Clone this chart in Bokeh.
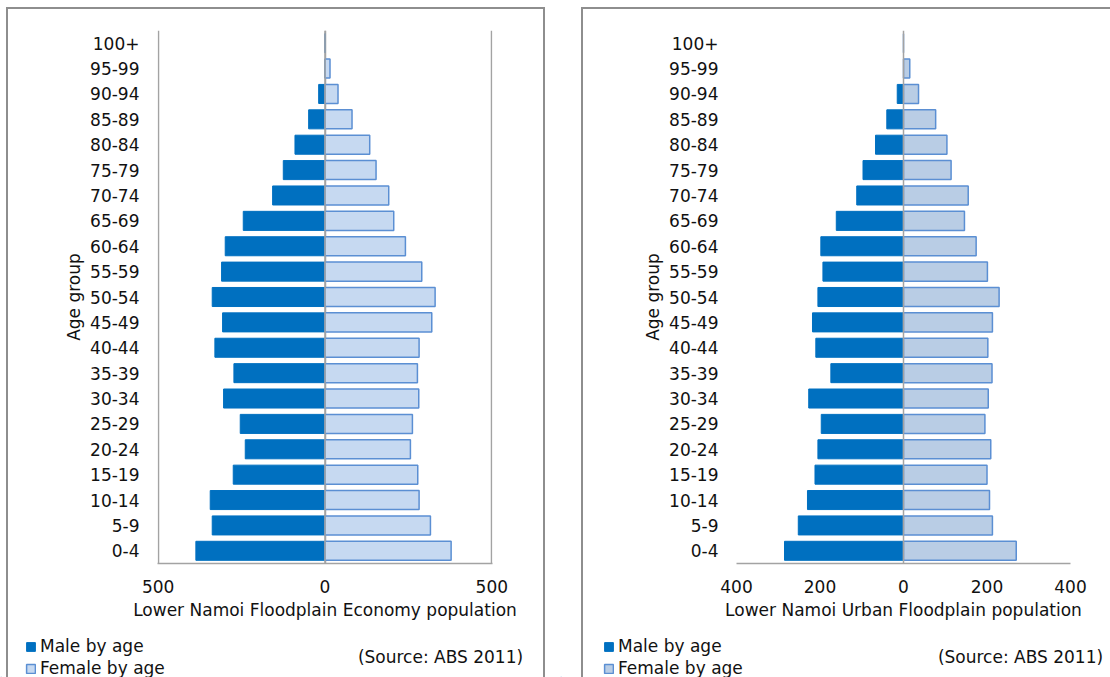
from bokeh.plotting import figure
from bokeh.models import (Range1d, FixedTicker, Span, Label, Legend, LegendItem,
                          ColumnDataSource)
from bokeh.layouts import row, column
from bokeh.embed import file_html
from bokeh.resources import INLINE

# Age groups, youngest first (plotted bottom to top)
age_groups = ["0-4", "5-9", "10-14", "15-19", "20-24", "25-29", "30-34", "35-39",
              "40-44", "45-49", "50-54", "55-59", "60-64", "65-69", "70-74", "75-79",
              "80-84", "85-89", "90-94", "95-99", "100+"]

# Lower Namoi Floodplain Economy population
economy_male = [387, 338, 344, 275, 239, 254, 304, 273, 330, 307, 338, 310, 299, 245,
                157, 125, 90, 49, 19, 0, 0]
economy_female = [378, 316, 282, 278, 256, 262, 281, 277, 282, 320, 330, 290, 241, 206,
                  191, 153, 134, 81, 39, 15, 0]

# Lower Namoi Urban Floodplain population
urban_male = [285, 252, 230, 212, 205, 197, 227, 174, 210, 218, 205, 193, 198, 161,
              112, 97, 67, 40, 15, 0, 0]
urban_female = [270, 213, 206, 200, 209, 195, 203, 212, 202, 213, 229, 201, 174, 146,
                155, 114, 104, 77, 36, 15, 0]

economy_ticks = [-500, 0, 500]
urban_ticks = [-400, -200, 0, 200, 400]

series_labels = ["Male by age", "Female by age"]
source_note = "(Source: ABS 2011)"

FONT = "DejaVu Sans"
FS = "17px"
TEXT = "#111111"
AXIS_GREY = "#a3a3a3"
PANEL_GREY = "#8e8e8e"
MALE_BLUE = "#0070c0"
BAR_EDGE = "#5b8fd3"

CHART_H = 630
FOOT_H = 677 - CHART_H
FRAME_TOP = 30
FRAME_BOTTOM = 563


def chart(width, frame_left, frame_right, ticks, male, female, female_fill,
          xlabel, show_grid):
    limit = max(abs(t) for t in ticks)
    pad = limit * 0.004 if show_grid else 0
    n = len(age_groups)
    p = figure(width=width, height=CHART_H, output_backend="svg", toolbar_location=None,
               x_range=Range1d(-limit - pad, limit + pad),
               y_range=Range1d(-0.5, n - 0.5),
               min_border_left=frame_left, min_border_right=width - frame_right,
               min_border_top=FRAME_TOP, min_border_bottom=CHART_H - FRAME_BOTTOM,
               outline_line_color=None, border_fill_alpha=0,
               background_fill_color="white")

    src = ColumnDataSource(dict(
        y=list(range(n)),
        male_left=[-v for v in male],
        female_right=female,
    ))
    p.hbar(y="y", left="male_left", right=0, height=0.75, source=src,
           fill_color=MALE_BLUE, line_color=MALE_BLUE, line_width=1)
    p.hbar(y="y", left=0, right="female_right", height=0.75, source=src,
           fill_color=female_fill, line_color=BAR_EDGE, line_width=1.5)

    # x axis: population, symmetric with absolute-value labels
    p.xaxis.ticker = FixedTicker(ticks=ticks)
    p.xaxis.major_label_overrides = {t: str(abs(t)) for t in ticks}
    p.xaxis.axis_label = xlabel
    p.xaxis.axis_line_color = AXIS_GREY
    p.xaxis.axis_line_width = 1.5
    p.xaxis.major_tick_line_color = None
    p.xaxis.minor_tick_line_color = None
    p.xaxis.major_tick_out = 0
    p.xaxis.major_tick_in = 0
    p.xaxis.major_label_standoff = 16
    p.xaxis.axis_label_standoff = 4

    # y axis: age groups
    p.yaxis.ticker = FixedTicker(ticks=list(range(n)))
    p.yaxis.major_label_overrides = {i: g for i, g in enumerate(age_groups)}
    p.yaxis.axis_label = "Age group"
    p.yaxis.axis_line_color = None
    p.yaxis.major_tick_line_color = None
    p.yaxis.minor_tick_line_color = None
    p.yaxis.major_tick_out = 0
    p.yaxis.major_tick_in = 0
    p.yaxis.major_label_standoff = 18
    p.yaxis.axis_label_standoff = 3

    for ax in (p.xaxis, p.yaxis):
        ax.major_label_text_font = FONT
        ax.major_label_text_font_size = FS
        ax.major_label_text_color = TEXT
        ax.axis_label_text_font = FONT
        ax.axis_label_text_font_size = FS
        ax.axis_label_text_font_style = "normal"
        ax.axis_label_text_color = TEXT

    p.ygrid.grid_line_color = None
    if show_grid:
        p.xgrid.ticker = FixedTicker(ticks=ticks)
        p.xgrid.grid_line_color = AXIS_GREY
        p.xgrid.grid_line_width = 1.5
    else:
        p.xgrid.grid_line_color = None

    # vertical axis line at zero, over the bars
    p.add_layout(Span(location=0, dimension="height", line_color=AXIS_GREY,
                      line_width=1.5))
    return p


def footer(width, female_fill, legend_x, note_x):
    # strip under each chart holding the legend and the source note;
    # its frame fills the strip so x/y data units are pixels
    f = figure(width=width, height=FOOT_H, output_backend="svg", toolbar_location=None,
               x_range=Range1d(0, width), y_range=Range1d(0, FOOT_H),
               x_axis_location=None, y_axis_location=None, min_border=0,
               outline_line_color=None, border_fill_alpha=0, background_fill_alpha=0)
    f.grid.grid_line_color = None
    # legend keys: one bar each, parked below the visible strip
    male_key = f.hbar(y=[-100], right=[1], height=1, fill_color=MALE_BLUE,
                      line_color=MALE_BLUE, line_width=1)
    female_key = f.hbar(y=[-100], right=[1], height=1, fill_color=female_fill,
                        line_color=BAR_EDGE, line_width=1.5)
    legend = Legend(
        items=[LegendItem(label=series_labels[0], renderers=[male_key]),
               LegendItem(label=series_labels[1], renderers=[female_key])],
        location=(legend_x, -2),
        glyph_width=11, glyph_height=11, label_standoff=4, spacing=0, padding=0,
        margin=0, label_height=22, border_line_color=None, background_fill_alpha=0,
        label_text_font=FONT, label_text_font_size=FS, label_text_color=TEXT,
        label_text_baseline="middle",
    )
    f.add_layout(legend)
    f.add_layout(Label(x=note_x, y=677 - 656, text=source_note,
                       text_align="center", text_baseline="middle",
                       text_font=FONT, text_font_size=FS, text_color=TEXT))
    return row(f, spacing=0)


left = column(
    chart(560, 157, 492, economy_ticks, economy_male, economy_female, "#c6d9f1",
          "Lower Namoi Floodplain Economy population", True),
    footer(560, "#c6d9f1", 25, 440),
    spacing=0,
)
right = column(
    chart(550, 176, 510, urban_ticks, urban_male, urban_female, "#b9cde5",
          "Lower Namoi Urban Floodplain population", False),
    footer(550, "#b9cde5", 43, 460),
    spacing=0,
)

# chart-area borders of the two panels, drawn behind the transparent canvases
c = PANEL_GREY
edges = [
    f"linear-gradient({c},{c}) 6px 7px / 2px 720px no-repeat",
    f"linear-gradient({c},{c}) 543px 7px / 2px 720px no-repeat",
    f"linear-gradient({c},{c}) 6px 7px / 539px 2px no-repeat",
    f"linear-gradient({c},{c}) 581px 7px / 2px 720px no-repeat",
    f"linear-gradient({c},{c}) 581px 7px / 600px 2px no-repeat",
]
layout = row(left, right, spacing=0, styles={"background": ", ".join(edges) + ", white"})

open("out.html", "w").write(file_html(layout, INLINE))
